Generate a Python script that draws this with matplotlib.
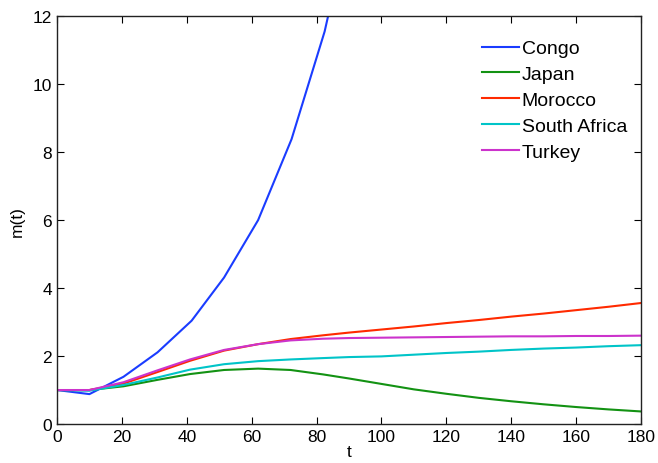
import matplotlib
matplotlib.use("Agg")
import matplotlib.pyplot as plt

plt.rcParams['font.family'] = ['Liberation Sans', 'DejaVu Sans']

# sample times
t = [0, 10, 20.5, 31, 41, 51.5, 62, 72, 82, 90, 100, 110, 120, 130, 140, 150, 160, 170, 180]
t_congo = [0, 10, 20.5, 31, 41.5, 51.5, 62, 72.3, 82.5, 93]

congo = [1.0, 0.88, 1.39, 2.11, 3.04, 4.31, 6.0, 8.38, 11.55, 16.0]
japan = [1.0, 1.0, 1.11, 1.30, 1.47, 1.59, 1.63, 1.59, 1.46, 1.34, 1.18, 1.02, 0.89,
         0.77, 0.67, 0.58, 0.50, 0.43, 0.37]
morocco = [1.0, 1.0, 1.19, 1.53, 1.86, 2.16, 2.35, 2.50, 2.61, 2.69, 2.78, 2.87, 2.97,
           3.06, 3.16, 3.25, 3.35, 3.45, 3.56]
south_africa = [1.0, 0.98, 1.15, 1.37, 1.60, 1.76, 1.85, 1.90, 1.94, 1.97, 1.99, 2.04,
                2.09, 2.13, 2.18, 2.22, 2.25, 2.29, 2.32]
turkey = [1.0, 1.0, 1.23, 1.58, 1.90, 2.18, 2.35, 2.46, 2.51, 2.53, 2.54, 2.55, 2.56,
          2.57, 2.58, 2.58, 2.59, 2.59, 2.60]

fig = plt.figure(figsize=(6.58, 4.64), dpi=100)
ax = fig.add_axes([0.0866, 0.084, 0.8875, 0.879])

lw = 1.5
ax.plot(t_congo, congo, color='#1a3cff', lw=lw, label='Congo')
ax.plot(t, japan, color='#139213', lw=lw, label='Japan')
ax.plot(t, morocco, color='#ff2a00', lw=lw, label='Morocco')
ax.plot(t, south_africa, color='#00c4c8', lw=lw, label='South Africa')
ax.plot(t, turkey, color='#cc33cc', lw=lw, label='Turkey')

ax.set_xlim(0, 180)
ax.set_ylim(0, 12)
ax.set_xticks(range(0, 181, 20))
ax.set_yticks(range(0, 13, 2))
ax.tick_params(direction='in', top=True, right=True, labelsize=12.5, length=5, width=0.8)
for s in ax.spines.values():
    s.set_linewidth(1.0)
    s.set_color('#222222')

ax.set_xlabel('t', fontsize=12.5, labelpad=0)
ax.set_ylabel('m(t)', fontsize=12.5, labelpad=6)

leg = ax.legend(loc='upper right', bbox_to_anchor=(1.006, 0.985), frameon=False,
                fontsize=14, handlelength=1.9, handletextpad=0.15, labelspacing=0.42)

fig.savefig('out.png', dpi=100)
